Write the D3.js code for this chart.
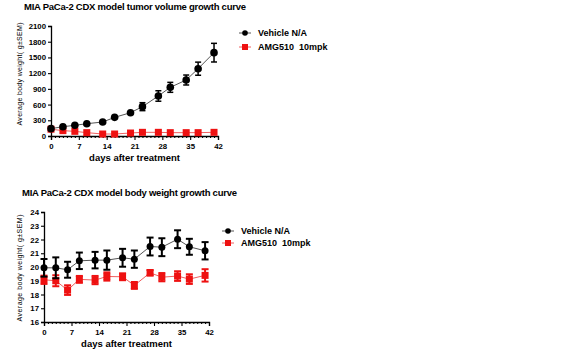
<!DOCTYPE html>
<html><head><meta charset="utf-8">
<script src="https://cdn.jsdelivr.net/npm/d3@7"></script>
<style>body{margin:0;background:#fff}svg{display:block}text{font-family:"Liberation Sans",Arial,sans-serif;font-weight:bold;white-space:pre}</style>
</head><body><svg id="c" width="575" height="358"></svg>
<script>
const days = [0,3,6,9,13,16,20,23,27,30,34,37,41];
const seriesNames = ["Vehicle N/A","AMG510  10mpk"];
// Tumor volume
const tvVehicle = [140,178,204,235,267,356,445,560,764,929,1069,1285,1591];
const tvVehicleErr = [15,15,15,18,20,20,22,76,100,95,95,125,178];
const tvAmg = [130,102,89,64,38,38,57,70,70,64,64,64,70];
const tvAmgErr = [10,10,10,8,6,6,8,8,8,8,8,8,8];
const tvTicks = [0,300,600,900,1200,1500,1800,2100];
// Body weight
const bwVehicle = [19.94,19.94,19.80,20.45,20.50,20.50,20.67,20.57,21.49,21.44,22.02,21.47,21.18];
const bwVehicleErr = [0.64,0.76,0.58,0.60,0.60,0.70,0.65,0.63,0.65,0.65,0.65,0.58,0.63];
const bwAmg = [19.07,19.00,18.32,19.10,19.05,19.31,19.29,18.66,19.58,19.26,19.34,19.12,19.39];
const bwAmgErr = [0.30,0.40,0.35,0.25,0.30,0.30,0.25,0.25,0.20,0.30,0.35,0.35,0.45];
const bwTicks = [16,17,18,19,20,21,22,23,24];
const xTicks = [0,7,14,21,28,35,42];

const svg = d3.select("#c");

function chart(cfg){
  const g = svg.append("g");
  const x = d3.scaleLinear().domain([0,42]).range([cfg.x0,cfg.x1]);
  const y = d3.scaleLinear().domain(cfg.ydom).range([cfg.y0,cfg.y1]);
  g.append("text").attr("x",cfg.tx).attr("y",cfg.ty).attr("font-size",9.5)
    .attr("textLength",cfg.tw).attr("lengthAdjust","spacing").attr("fill","#000").text(cfg.title);
  // axes
  const ya = d3.axisLeft(y).tickValues(cfg.yticks).tickSize(3).tickPadding(2).tickFormat(d3.format("d"));
  const yg = g.append("g").attr("transform",`translate(${cfg.x0},0)`).call(ya);
  const xa = d3.axisBottom(x).tickValues(xTicks).tickSize(4).tickPadding(3);
  const xg = g.append("g").attr("transform",`translate(0,${cfg.y0})`).call(xa);
  const xm = d3.axisBottom(x).tickValues(d3.range(0,43).filter(d=>d%7)).tickSize(2).tickFormat("");
  const xmg = g.append("g").attr("transform",`translate(0,${cfg.y0})`).call(xm);
  [yg,xg,xmg].forEach(a=>{a.select(".domain").attr("stroke","#000").attr("stroke-width",1.3);a.selectAll("line").attr("stroke","#000").attr("stroke-width",1.1);a.selectAll("text").attr("font-size",7.8).attr("fill","#000").attr("font-family","Liberation Sans, Arial, sans-serif").attr("font-weight","bold");});
  xmg.select(".domain").remove();
  g.append("text").attr("x",(cfg.x0+cfg.x1)/2).attr("y",cfg.y0+25).attr("text-anchor","middle").attr("font-size",9.5).text("days after treatment");
  g.append("text").attr("transform",`translate(${cfg.yl},${cfg.yc}) rotate(-90)`).attr("text-anchor","middle").attr("font-size",7)
    .style("font-weight","normal").attr("textLength",cfg.yw).attr("lengthAdjust","spacing").text("Average body weight( g±SEM)");
  const series = [
    {v:cfg.a, e:cfg.ae, col:"#000", lc:"#555", shape:"circle"},
    {v:cfg.b, e:cfg.be, col:"#ee1111", lc:"#f06060", shape:"square"}
  ];
  series.slice().reverse().forEach(s=>{
    const line = d3.line().x((d,i)=>x(days[i])).y(d=>y(d));
    g.append("path").datum(s.v).attr("d",line).attr("fill","none").attr("stroke",s.lc).attr("stroke-width",1);
  });
  series.slice().reverse().forEach(s=>{
    const eg = g.append("g").attr("stroke",s.col).attr("stroke-width",cfg.ew);
    s.v.forEach((v,i)=>{
      const xx = x(days[i]), hi = y(v+s.e[i]), lo = y(v-s.e[i]);
      if (lo-hi < 3) return;
      eg.append("line").attr("x1",xx).attr("x2",xx).attr("y1",hi).attr("y2",lo);
      eg.append("line").attr("x1",xx-cfg.cap).attr("x2",xx+cfg.cap).attr("y1",hi).attr("y2",hi);
      eg.append("line").attr("x1",xx-cfg.cap).attr("x2",xx+cfg.cap).attr("y1",lo).attr("y2",lo);
    });
    s.v.forEach((v,i)=>{
      if (s.shape==="circle") g.append("circle").attr("cx",x(days[i])).attr("cy",y(v)).attr("r",cfg.r).attr("fill",s.col);
      else g.append("rect").attr("x",x(days[i])-cfg.sq/2).attr("y",y(v)-cfg.sq/2).attr("width",cfg.sq).attr("height",cfg.sq).attr("fill",s.col);
    });
  });
  // legend
  series.forEach((s,i)=>{
    const ly = cfg.ly + i*cfg.lgap;
    g.append("line").attr("x1",cfg.lx-6).attr("x2",cfg.lx+6).attr("y1",ly).attr("y2",ly).attr("stroke",s.lc).attr("stroke-width",1);
    if (s.shape==="circle") g.append("circle").attr("cx",cfg.lx).attr("cy",ly).attr("r",2.8).attr("fill",s.col);
    else g.append("rect").attr("x",cfg.lx-3).attr("y",ly-3).attr("width",6).attr("height",6).attr("fill",s.col);
    g.append("text").attr("x",cfg.lx+13).attr("y",ly+3.3).attr("font-size",9).text(seriesNames[i]);
  });
}

chart({title:"MIA PaCa-2 CDX model tumor volume growth curve", tx:24, ty:10, tw:222,
  x0:51, x1:218, y0:136, y1:26, ydom:[0,2100], yticks:tvTicks, yl:22, yc:74, yw:103,
  a:tvVehicle, ae:tvVehicleErr, b:tvAmg, be:tvAmgErr, r:3.8, sq:7, cap:3, ew:1.5,
  lx:245, ly:33, lgap:14});
chart({title:"MIA PaCa-2 CDX model body weight growth curve", tx:22, ty:196, tw:215,
  x0:44, x1:209, y0:322, y1:212, ydom:[16,24], yticks:bwTicks, yl:22, yc:268, yw:107,
  a:bwVehicle, ae:bwVehicleErr, b:bwAmg, be:bwAmgErr, r:3.5, sq:7, cap:3.5, ew:2,
  lx:228, ly:231, lgap:12});
</script></body></html>
